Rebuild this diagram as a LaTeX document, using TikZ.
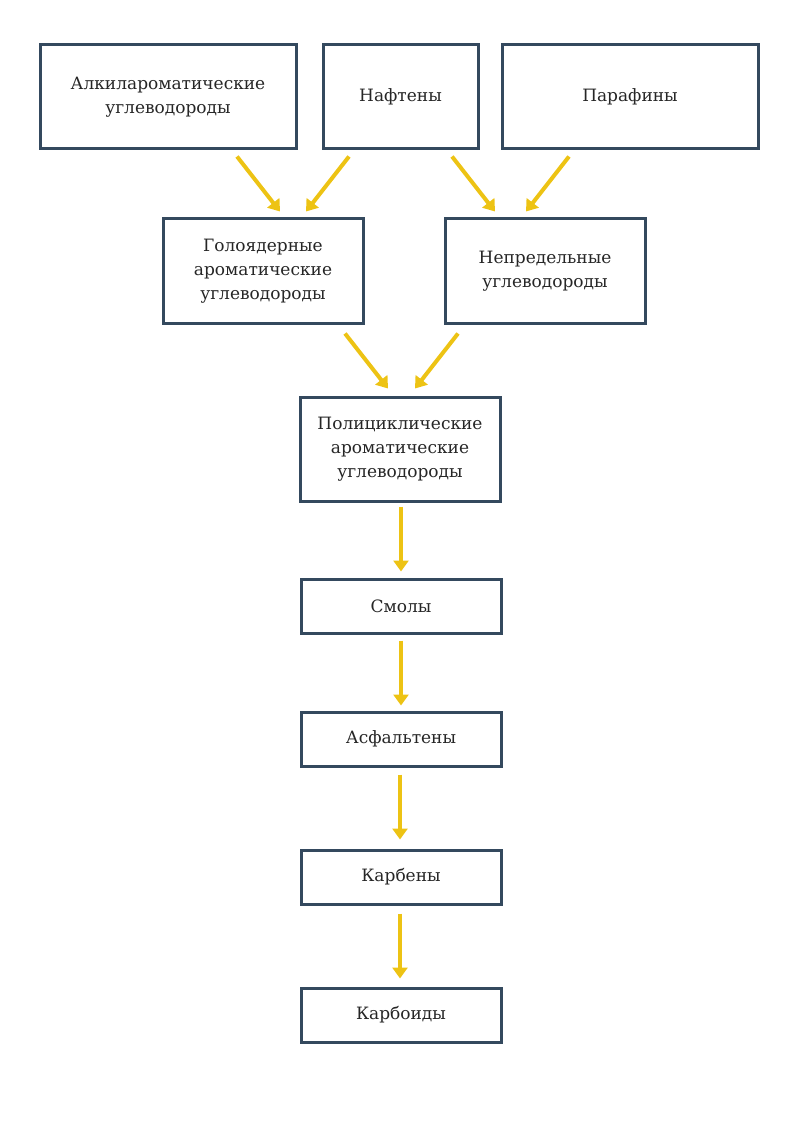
\documentclass[tikz,border=0pt]{standalone}
\usepackage{fontspec}
\setmainfont{DejaVu Serif}
\usetikzlibrary{arrows.meta,calc}
\definecolor{boxc}{HTML}{34495E}
\definecolor{arrc}{HTML}{EDC314}
\tikzset{
  box/.style={draw=boxc,line width=3pt,fill=white,align=center,inner sep=0pt,font=\fontsize{17}{24}\selectfont,text=black!85},
  arr/.style={draw=arrc,line width=4pt,-{Triangle[length=11pt,width=15pt]},shorten >=0pt}
}
\begin{document}
\begin{tikzpicture}[x=1pt,y=-1pt]
\useasboundingbox (0,0) rectangle (794,1123);
\node[box,minimum width=256pt,minimum height=104pt] (alk) at (168,97) {Алкилароматические\\углеводороды};
\node[box,minimum width=155pt,minimum height=104pt] (naf) at (400.5,97) {Нафтены};
\node[box,minimum width=256pt,minimum height=104pt] (par) at (630,97) {Парафины};
\node[box,minimum width=200pt,minimum height=104pt] (gol) at (263,271) {Голоядерные\\ароматические\\углеводороды};
\node[box,minimum width=200pt,minimum height=104pt] (nep) at (545,271) {Непредельные\\углеводороды};
\node[box,minimum width=200pt,minimum height=104pt] (pol) at (400,449) {Полициклические\\ароматические\\углеводороды};
\node[box,minimum width=200pt,minimum height=54pt] (smo) at (401,606) {Смолы};
\node[box,minimum width=200pt,minimum height=54pt] (asf) at (401,739) {Асфальтены};
\node[box,minimum width=200pt,minimum height=54pt] (kar) at (401,877) {Карбены};
\node[box,minimum width=200pt,minimum height=54pt] (kbd) at (401,1015) {Карбоиды};
\draw[arr] ($(alk.south)+(69,6)$) -- ($(gol.north)+(17,-6)$);
\draw[arr] ($(naf.south)+(-51.5,6)$) -- ($(gol.north)+(43,-6)$);
\draw[arr] ($(naf.south)+(51.5,6)$) -- ($(nep.north)+(-50,-6)$);
\draw[arr] ($(par.south)+(-61,6)$) -- ($(nep.north)+(-19,-6)$);
\draw[arr] ($(gol.south)+(82,9)$) -- ($(pol.north)+(-12,-7)$);
\draw[arr] ($(nep.south)+(-87,9)$) -- ($(pol.north)+(15,-7)$);
\draw[arr] ($(pol.south)+(1,4)$) -- ($(smo.north)+(0,-6)$);
\draw[arr] ($(smo.south)+(0,6)$) -- ($(asf.north)+(0,-5)$);
\draw[arr] ($(asf.south)+(-1,7)$) -- ($(kar.north)+(-1,-9)$);
\draw[arr] ($(kar.south)+(-1,8)$) -- ($(kbd.north)+(-1,-8)$);
\end{tikzpicture}
\end{document}
